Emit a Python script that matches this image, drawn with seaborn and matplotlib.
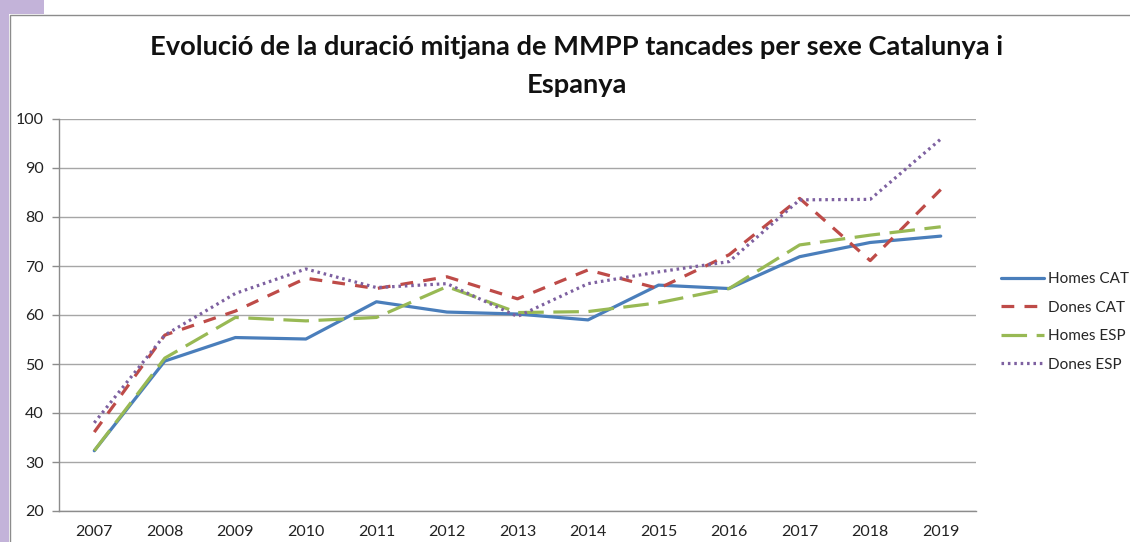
import matplotlib
matplotlib.use("Agg")
import matplotlib.pyplot as plt
import seaborn as sns
import pandas as pd
from matplotlib.patches import Rectangle

years = ["2007", "2008", "2009", "2010", "2011", "2012", "2013",
         "2014", "2015", "2016", "2017", "2018", "2019"]
homes_cat = [32.3, 50.6, 55.4, 55.1, 62.7, 60.6, 60.2, 59.0, 66.1, 65.4, 71.9, 74.8, 76.1]
dones_cat = [36.1, 55.9, 60.8, 67.5, 65.4, 67.8, 63.3, 69.2, 65.4, 72.3, 83.8, 71.1, 85.6]
homes_esp = [32.3, 51.2, 59.5, 58.8, 59.5, 65.8, 60.5, 60.7, 62.5, 65.4, 74.3, 76.3, 78.0]
dones_esp = [38.0, 55.9, 64.4, 69.4, 65.6, 66.4, 59.7, 66.4, 68.8, 70.9, 83.5, 83.6, 95.9]
series_names = ["Homes CAT", "Dones CAT", "Homes ESP", "Dones ESP"]
title = "Evolució de la duració mitjana de MMPP tancades per sexe Catalunya i\nEspanya"

rows = []
for name, vals in zip(series_names, [homes_cat, dones_cat, homes_esp, dones_esp]):
    for y, v in zip(years, vals):
        rows.append({"year": y, "value": v, "series": name})
df = pd.DataFrame(rows)

sns.set_theme(style="white")
plt.rcParams["font.family"] = ["Lato", "DejaVu Sans"]

fig = plt.figure(figsize=(11.30, 5.42), dpi=100)
W, H = 1130, 542
# lavender strip + chart border
fig.patches.append(Rectangle((0, 0), 9 / W, 1, transform=fig.transFigure,
                             facecolor="#C3B3D9", edgecolor="none", zorder=-5))
fig.patches.append(Rectangle((0, 1 - 14 / H), 44 / W, 14 / H, transform=fig.transFigure,
                             facecolor="#C3B3D9", edgecolor="none", zorder=-5))
fig.patches.append(Rectangle((9.5 / W, -0.01), 1.1, 1 - 14.5 / H + 0.01, transform=fig.transFigure,
                             facecolor="white", edgecolor="#8C8C8C", linewidth=1.0, zorder=-4))

ax = fig.add_axes([59 / W, 1 - 511 / H, (976 - 59) / W, (511 - 119) / H])
ax.set_facecolor("none")
ax.set_zorder(2)

palette = {"Homes CAT": "#4A7EBB", "Dones CAT": "#BE4B48",
           "Homes ESP": "#98B954", "Dones ESP": "#7D60A0"}
dashes = {"Homes CAT": "", "Dones CAT": (4, 3.2),
          "Homes ESP": (8, 3), "Dones ESP": (0.8, 1.2)}
sns.lineplot(data=df, x="year", y="value", hue="series", style="series",
             palette=palette, dashes=dashes, linewidth=2.3, ax=ax, sort=False)

ax.set_ylim(20, 100)
ax.set_yticks(range(20, 101, 10))
ax.set_xlim(-0.5, 12.5)
ax.set_xticks(range(len(years)))
ax.set_xticklabels(years)
ax.set_xticks([i - 0.5 for i in range(len(years) + 1)], minor=True)
ax.tick_params(axis="x", which="major", length=0, pad=10, labelsize=11.5, colors="#222222")
ax.tick_params(axis="x", which="minor", length=5, width=1, color="#8C8C8C", direction="out")
ax.tick_params(axis="y", which="major", length=5, width=1, color="#8C8C8C", direction="out",
               pad=6, labelsize=11.5, labelcolor="#222222", left=True)
ax.grid(axis="y", color="#A6A6A6", linewidth=1.0)
ax.set_axisbelow(True)
for s in ["top", "right"]:
    ax.spines[s].set_visible(False)
for s in ["left", "bottom"]:
    ax.spines[s].set_color("#8C8C8C")
    ax.spines[s].set_linewidth(1.0)
ax.set_xlabel("")
ax.set_ylabel("")

handles, labels = ax.get_legend_handles_labels()
ax.legend(handles, labels, loc="upper left", bbox_to_anchor=(1001 / W, 1 - 272 / H),
          bbox_transform=fig.transFigure, frameon=False, fontsize=11,
          handlelength=2.8, handletextpad=0.3, labelspacing=0.95, borderpad=0,
          borderaxespad=0)

fig.text(577 / W, 1 - 66 / H, title, ha="center", va="center", fontsize=19.6,
         fontweight="bold", color="#111111", linespacing=1.68)

fig.savefig("out.png", dpi=100)
